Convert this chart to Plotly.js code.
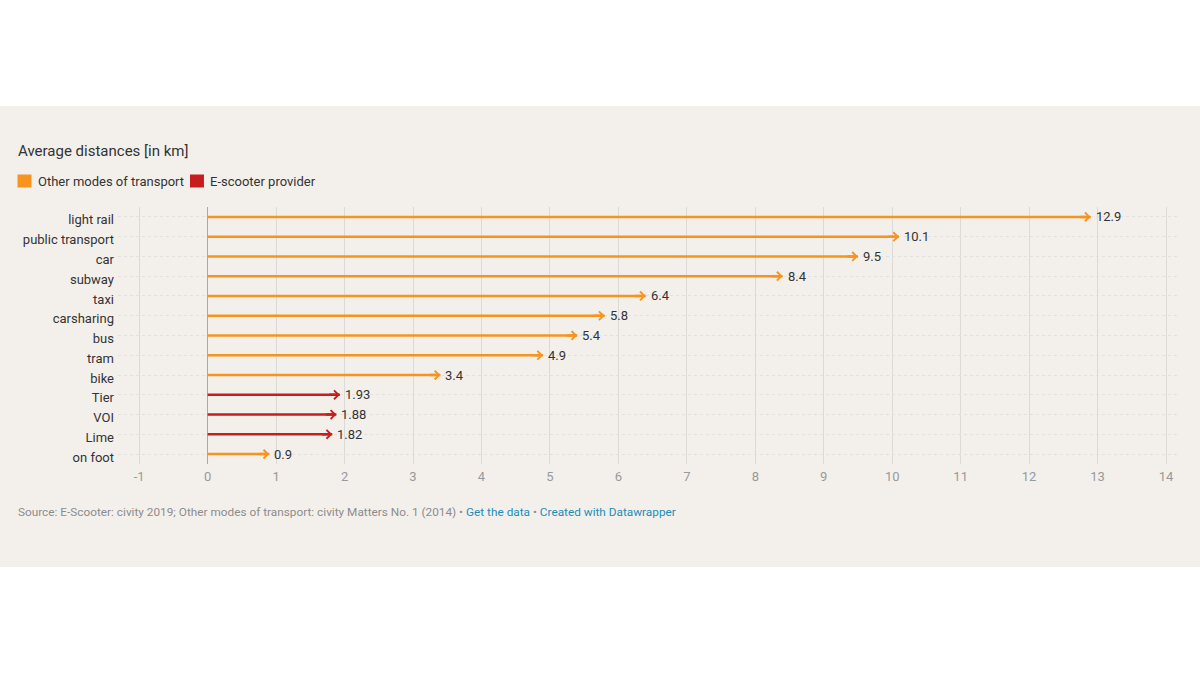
<!DOCTYPE html>
<html>
<head>
<meta charset="utf-8">
<script src="https://cdn.plot.ly/plotly-3.0.1.min.js"></script>
<style>
html,body{margin:0;padding:0;background:#ffffff;width:1200px;height:676px;overflow:hidden;}
#chart{position:absolute;left:0;top:106px;width:1200px;height:461px;}
</style>
</head>
<body>
<div id="chart"></div>
<script>
// Data (top to bottom)
const categories = ["light rail","public transport","car","subway","taxi","carsharing","bus","tram","bike","Tier","VOI","Lime","on foot"];
const values     = [12.9, 10.1, 9.5, 8.4, 6.4, 5.8, 5.4, 4.9, 3.4, 1.93, 1.88, 1.82, 0.9];
const valueLabels= ["12.9","10.1","9.5","8.4","6.4","5.8","5.4","4.9","3.4","1.93","1.88","1.82","0.9"];
const groups     = ["other","other","other","other","other","other","other","other","other","scooter","scooter","scooter","other"];
const groupNames = {other:"Other modes of transport", scooter:"E-scooter provider"};
const xTicks     = [-1,0,1,2,3,4,5,6,7,8,9,10,11,12,13,14];

const colors = {other:"#f7931e", scooter:"#c71e1d"};
const FONT = "Roboto, 'Open Sans', sans-serif";

const traces = [];
// stems: one trace per group with gaps
["other","scooter"].forEach(g => {
  const xs = [], ys = [];
  categories.forEach((c,i) => {
    if (groups[i] === g) { xs.push(0, values[i], null); ys.push(c, c, null); }
  });
  traces.push({type:"scatter", mode:"lines", x:xs, y:ys, line:{color:colors[g], width:2.5},
               showlegend:false, hoverinfo:"skip", cliponaxis:false, name:groupNames[g]});
});

// arrow heads
const annotations = categories.map((c,i) => ({
  x: values[i], y: c, xref:"x", yref:"y",
  ax: -12, ay: 0, axref:"pixel", ayref:"pixel",
  text: "", showarrow:true, arrowhead:4, arrowsize:0.68, arrowwidth:2.5,
  arrowcolor: colors[groups[i]]
}));
// value labels
categories.forEach((c,i) => {
  annotations.push({x: values[i], y: c, xref:"x", yref:"y", xanchor:"left", yanchor:"middle",
    xshift:3, yshift:0, showarrow:false, text: valueLabels[i],
    font:{family:FONT, size:13, color:"#333333"}});
});
// legend (drawn as shapes + text)
const legendItems = [
  {g:"other",   sx0:-0.0948, sx1:-0.0816, tx:-0.0769},
  {g:"scooter", sx0:0.0679,  sx1:0.0811,  tx:0.0849}
];
const shapes = [];
legendItems.forEach(it => {
  shapes.push({type:"rect", xref:"paper", yref:"paper", x0:it.sx0, x1:it.sx1, y0:1.0759, y1:1.1265,
               fillcolor:colors[it.g], line:{width:0}});
  annotations.push({xref:"paper", yref:"paper", x:it.tx, y:1.101, xanchor:"left", yanchor:"middle",
    showarrow:false, text:groupNames[it.g], font:{family:FONT, size:13, color:"#333333"}});
});
// footer
annotations.push({
  xref:"paper", yref:"paper", x:-0.0962, y:-0.187, xanchor:"left", yanchor:"middle",
  showarrow:false, align:"left",
  font:{family:FONT, size:11.8, color:"#8c8c8c"},
  text:"Source: E-Scooter: civity 2019; Other modes of transport: civity Matters No. 1 (2014) • " +
       "<span style='color:#1d8db8'>Get the data</span> • " +
       "<span style='color:#1d8db8'>Created with Datawrapper</span>"
});

const layout = {
  width:1200, height:461,
  paper_bgcolor:"#f3f0ec", plot_bgcolor:"#f3f0ec",
  margin:{l:118, r:22, t:101, b:103},
  font:{family:FONT, color:"#333333"},
  title:{text:"Average distances [in km]", xref:"container", yref:"container",
         x:0.015, xanchor:"left", y:0.902, yanchor:"middle",
         font:{family:FONT, size:15, color:"#333333"}},
  showlegend:false,
  xaxis:{range:[-1.31, 14.175], tickvals:xTicks, ticktext:xTicks.map(String),
         showgrid:true, gridcolor:"#dcdad6", gridwidth:1,
         zeroline:true, zerolinecolor:"#a8a8a8", zerolinewidth:1,
         showline:false, ticks:"", ticklabelstandoff:3,
         tickfont:{family:FONT, size:13, color:"#999999"},
         automargin:false, fixedrange:true},
  yaxis:{type:"category", categoryorder:"array", categoryarray:categories,
         range:[12.5,-0.5], showgrid:true, gridcolor:"#e4e1dc", griddash:"dot", gridwidth:1,
         zeroline:false, showline:false, ticks:"", ticklabelstandoff:3, ticklabelshift:-3,
         tickfont:{family:FONT, size:13, color:"#333333"}, automargin:false, fixedrange:true},
  annotations:annotations,
  shapes:shapes,
  hovermode:false
};

Plotly.newPlot("chart", traces, layout, {displayModeBar:false, staticPlot:true});
</script>
</body>
</html>
